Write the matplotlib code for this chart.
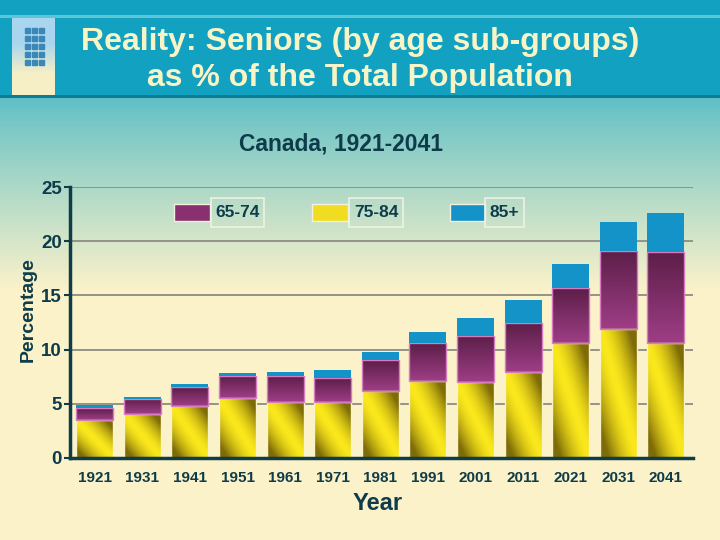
import numpy as np
import matplotlib.pyplot as plt
from matplotlib.patches import Rectangle
from matplotlib.colors import to_rgb

plt.rcParams['font.family'] = ['Liberation Sans', 'DejaVu Sans']

years = ["1921", "1931", "1941", "1951", "1961", "1971", "1981",
         "1991", "2001", "2011", "2021", "2031", "2041"]
age_65_74 = [3.5, 4.05, 4.8, 5.5, 5.15, 5.15, 6.15, 7.1, 7.0, 7.9, 10.6, 11.9, 10.6]
age_75_84 = [1.1, 1.4, 1.75, 2.05, 2.45, 2.2, 2.85, 3.5, 4.3, 4.6, 5.05, 7.2, 8.4]
age_85_plus = [0.3, 0.2, 0.3, 0.3, 0.3, 0.75, 0.75, 1.05, 1.6, 2.05, 2.25, 2.7, 3.6]
legend_labels = ["65-74", "75-84", "85+"]

W, H = 720, 540
dark_text = "#0e3c4a"


def mix(c1, c2, t):
    c1 = np.array(to_rgb(c1))
    c2 = np.array(to_rgb(c2))
    t = np.asarray(t)[..., None]
    return c1 * (1 - t) + c2 * t


def fig_xy(x, y):
    return x / W, 1 - y / H


fig = plt.figure(figsize=(7.2, 5.4), dpi=100)

# background: header band + teal-to-cream fade
bg = fig.add_axes([0, 0, 1, 1], zorder=0)
bg.set_xlim(0, W)
bg.set_ylim(H, 0)
bg.set_axis_off()
rows = np.arange(H)
t = np.clip((rows - 97) / (290 - 97), 0, 1) ** 0.9
col = mix("#5ebfc5", "#fbf2ca", t)
col[rows < 97] = to_rgb("#13a1c1")
col[(rows >= 15) & (rows < 18)] = to_rgb("#5cc6d8")
col[(rows >= 95) & (rows < 98)] = to_rgb("#0c7d96")
bg.imshow(np.repeat(col[:, None, :], 2, axis=1), extent=[0, W, H, 0], aspect="auto")

# little logo at top left
logo = mix("#a9d6ee", "#f6efc6", np.clip((np.arange(77) - 25) / 30, 0, 1))
bg.imshow(np.repeat(logo[:, None, :], 2, axis=1), extent=[12, 55, 95, 18], aspect="auto")
for r in range(5):
    for c in range(3):
        bg.add_patch(Rectangle((25 + c * 7, 28 + r * 8), 5, 5, color="#3b88b8"))

fig.text(0.5, fig_xy(0, 50)[1], "Reality: Seniors (by age sub-groups)",
         ha="center", va="baseline", fontsize=23, fontweight="bold", color="#f8f4c6")
fig.text(0.5, fig_xy(0, 86)[1], "as % of the Total Population",
         ha="center", va="baseline", fontsize=23, fontweight="bold", color="#f8f4c6")
fig.text(fig_xy(341, 0)[0], fig_xy(0, 150)[1], "Canada, 1921-2041",
         ha="center", va="baseline", fontsize=16.5, fontweight="bold", color=dark_text)

# main chart
l, b = fig_xy(70, 458)
r, t_ = fig_xy(693, 187)
ax = fig.add_axes([l, b, r - l, t_ - b], zorder=1)
ax.patch.set_alpha(0)

x = np.arange(len(years))
bw = 0.78
bottom2 = np.array(age_65_74)
bottom3 = bottom2 + np.array(age_75_84)

bars1 = ax.bar(x, age_65_74, width=bw, facecolor="none", edgecolor="#fbf3c8", lw=1, zorder=3)
bars2 = ax.bar(x, age_75_84, width=bw, bottom=bottom2, facecolor="none", edgecolor="#d67cc0", lw=1, zorder=3)
bars3 = ax.bar(x, age_85_plus, width=bw, bottom=bottom3, color="#1493c8", lw=0, zorder=3)

# gradient fills
n = 60
u, v = np.meshgrid(np.linspace(0, 1, n), np.linspace(0, 1, n))
yel = mix("#fbe81c", "#7e6c08", np.clip(np.abs(u + v - 1) * 1.3, 0, 1) ** 1.6)
pur = mix("#9e3e86", "#5c1e48", v)
for bars, img in ((bars1, yel), (bars2, pur)):
    for p in bars:
        x0, y0 = p.get_x(), p.get_y()
        im = ax.imshow(img, extent=[x0, x0 + p.get_width(), y0, y0 + p.get_height()],
                       origin="lower", aspect="auto", zorder=2)
        im.set_clip_path(p)

ax.set_xlim(-0.52, 12.57)
ax.set_ylim(0, 25)
ax.set_aspect("auto")
ax.set_yticks([0, 5, 10, 15, 20, 25])
ax.set_xticks(x, years)
ax.yaxis.grid(True, color="#8c8c84", lw=1.3)
ax.set_axisbelow(True)
for s in ("top", "right"):
    ax.spines[s].set_visible(False)
for s in ("left", "bottom"):
    ax.spines[s].set_color("#0f3c46")
    ax.spines[s].set_linewidth(2.5)
ax.spines["bottom"].set_zorder(4)
ax.tick_params(axis="y", length=4, width=1.5, color="#0f3c46", pad=2,
               labelsize=13.5, labelcolor=dark_text)
ax.tick_params(axis="x", length=0, pad=9, labelsize=11, labelcolor=dark_text)
for lab in ax.get_yticklabels() + ax.get_xticklabels():
    lab.set_fontweight("bold")

fig.text(fig_xy(28, 0)[0], fig_xy(0, 310)[1], "Percentage", rotation=90,
         ha="center", va="center", fontsize=14, fontweight="bold", color=dark_text)
fig.text(fig_xy(378, 0)[0], fig_xy(0, 503)[1], "Year",
         ha="center", va="center", fontsize=17, fontweight="bold", color=dark_text)

# legend boxes
swatches = [(174, 210, "#8a3070"), (312, 348, "#f0dc20"), (450, 485, "#1493c8")]
boxes = [(211, 264), (349, 403), (485, 524)]
for (sx0, sx1, c), (bx0, bx1), lab in zip(swatches, boxes, legend_labels):
    px0, py0 = fig_xy(sx0, 221)
    px1, py1 = fig_xy(sx1, 204)
    fig.add_artist(Rectangle((px0, py0), px1 - px0, py1 - py0, transform=fig.transFigure,
                             facecolor=c, edgecolor="#f4f0e0", lw=1, zorder=5))
    qx0, qy0 = fig_xy(bx0, 227)
    qx1, qy1 = fig_xy(bx1, 198)
    fig.add_artist(Rectangle((qx0, qy0), qx1 - qx0, qy1 - qy0, transform=fig.transFigure,
                             facecolor="none", edgecolor="#eef2e4", lw=1.2, zorder=5))
    fig.text((qx0 + qx1) / 2, (qy0 + qy1) / 2, lab, ha="center", va="center",
             fontsize=12.5, fontweight="bold", color=dark_text, zorder=6)

fig.savefig("out.png", dpi=100)
